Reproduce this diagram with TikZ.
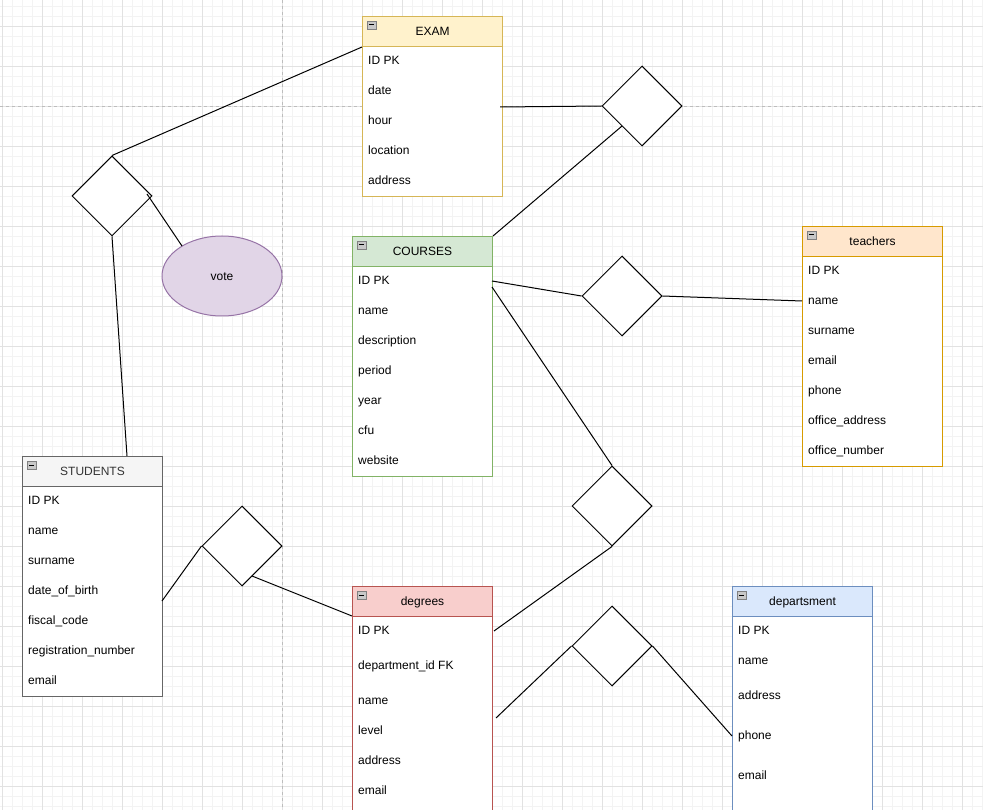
\documentclass[tikz,border=0pt]{standalone}
\usepackage{fontspec}
\setmainfont{Liberation Sans}
\usetikzlibrary{shapes.geometric,calc}

\definecolor{gridminor}{HTML}{F3F3F3}
\definecolor{gridmajor}{HTML}{E2E2E2}
\definecolor{pageline}{HTML}{BDBDBD}
\definecolor{examfill}{HTML}{FFF2CC}\definecolor{examline}{HTML}{D6B656}
\definecolor{coursefill}{HTML}{D5E8D4}\definecolor{courseline}{HTML}{82B366}
\definecolor{teachfill}{HTML}{FFE6CC}\definecolor{teachline}{HTML}{D79B00}
\definecolor{studfill}{HTML}{F5F5F5}\definecolor{studline}{HTML}{666666}
\definecolor{studtext}{HTML}{333333}
\definecolor{degfill}{HTML}{F8CECC}\definecolor{degline}{HTML}{B85450}
\definecolor{depfill}{HTML}{DAE8FC}\definecolor{depline}{HTML}{6C8EBF}
\definecolor{votefill}{HTML}{E1D5E7}\definecolor{voteline}{HTML}{9673A6}
\definecolor{iconfill}{HTML}{C8C8C8}\definecolor{iconline}{HTML}{808080}

\tikzset{
  every node/.style={font=\fontsize{12}{14}\selectfont},
  tblbody/.style={rectangle, fill=white, line width=1pt, minimum width=140pt,
    inner sep=0pt, anchor=north west},
  tblhead/.style={rectangle, line width=1pt, minimum width=140pt,
    minimum height=30pt, inner sep=0pt, anchor=north west},
  rowtext/.style={anchor=west, inner sep=0pt, text height=8.6pt, text depth=0pt},
  relbox/.style={diamond, draw=black, fill=white, line width=1pt,
    minimum width=80pt, minimum height=80pt, inner sep=0pt},
  attr/.style={ellipse, draw=voteline, fill=votefill, line width=1pt,
    minimum width=120pt, minimum height=80pt, inner sep=0pt,
    text height=8.6pt, text depth=0pt},
  link/.style={draw=black, line width=1pt},
}

% #1 name, #2 left x, #3 top y, #4 height, #5 fill, #6 stroke, #7 title, #8 rows (y/text)
\newcommand\ertable[8]{%
  \node[tblbody, draw=#6, minimum height=#4pt] (#1) at (#2,#3) {};
  \node[tblhead, fill=#5, draw=#6] (#1-head) at (#2,#3) {};
  \node[inner sep=0pt, text height=8.6pt, text depth=0pt] (#1-title)
    at (#1-head.center) {#7};
  \draw[fill=iconfill, draw=iconline, line width=0.6pt]
    ($(#1-head.north west)+(5,5)$) rectangle ($(#1-head.north west)+(14,13)$);
  \draw[black, line width=1pt]
    ($(#1-head.north west)+(7,9)$) -- ($(#1-head.north west)+(12,9)$);
  \foreach \yy/\rtxt [count=\n] in {#8}
    \node[rowtext] (#1-\n) at (#2+6,\yy) {\rtxt};
}

\begin{document}
\begin{tikzpicture}[x=1pt,y=-1pt]
\useasboundingbox (0,0) rectangle (983,810);
\clip (0,0) rectangle (983,810);
\fill[white] (0,0) rectangle (983,810);

% background grid
\foreach \x in {2,12,...,982} \draw[gridminor, line width=0.8pt] (\x,0) -- (\x,810);
\foreach \y in {6,16,...,806} \draw[gridminor, line width=0.8pt] (0,\y) -- (983,\y);
\foreach \x in {2,42,...,962} \draw[gridmajor, line width=0.8pt] (\x,0) -- (\x,810);
\foreach \y in {26,66,...,786} \draw[gridmajor, line width=0.8pt] (0,\y) -- (983,\y);
% page breaks
\draw[pageline, line width=0.8pt, dash pattern=on 3pt off 3pt] (282,0) -- (282,810);
\draw[pageline, line width=0.8pt, dash pattern=on 3pt off 3pt] (0,106) -- (983,106);

% entities
\ertable{exam}{362}{16}{180}{examfill}{examline}{EXAM}
  {60/ID PK, 90/date, 120/hour, 150/location, 180/address}
\ertable{courses}{352}{236}{240}{coursefill}{courseline}{COURSES}
  {280/ID PK, 310/name, 340/description, 370/period, 400/year, 430/cfu, 460/website}
\ertable{teachers}{802}{226}{240}{teachfill}{teachline}{teachers}
  {270/ID PK, 300/name, 330/surname, 360/email, 390/phone, 420/office\_address, 450/office\_number}
\ertable{students}{22}{456}{240}{studfill}{studline}{\color{studtext}STUDENTS}
  {500/ID PK, 530/name, 560/surname, 590/date\_of\_birth, 620/fiscal\_code, 650/registration\_number, 680/email}
\ertable{degrees}{352}{586}{250}{degfill}{degline}{degrees}
  {630/ID PK, 665/department\_id FK, 700/name, 730/level, 760/address, 790/email}
\ertable{dept}{732}{586}{250}{depfill}{depline}{departsment}
  {630/ID PK, 660/name, 695/address, 735/phone, 775/email}

% relationships
\node[relbox] (rvote)  at (112,196) {};
\node[relbox] (rexam)  at (642,106) {};
\node[relbox] (rteach) at (622,296) {};
\node[relbox] (rdeg)   at (612,506) {};
\node[relbox] (rdept)  at (612,646) {};
\node[relbox] (renrol) at (242,546) {};

% attribute
\node[attr] (vote) at (222,276) {vote};

% connector end points on entity borders
\coordinate (studTop)    at (127,456);
\coordinate (voteIn)     at (147,194);
\coordinate (voteEdge)   at (182,246);
\coordinate (examHour)   at (500,107);
\coordinate (courseR1)   at (492,281);
\coordinate (courseR2)   at (492,287);
\coordinate (teachName)  at (802,301);
\coordinate (degR1)      at (494,631);
\coordinate (degR2)      at (496,718);
\coordinate (deptPhone)  at (732,736);
\coordinate (studFiscal) at (162,601);
\coordinate (enrolOut)   at (252,576);
\coordinate (degL)       at (352,616);

% connectors
\draw[link] (exam-head.south west) -- (rvote.north);
\draw[link] (rvote.south) -- (studTop);
\draw[link] (voteIn) -- (voteEdge);
\draw[link] (examHour) -- (rexam.west);
\draw[link] (rexam.south west) -- (courses-head.north east);
\draw[link] (courseR1) -- (rteach.west);
\draw[link] (rteach.east) -- (teachName);
\draw[link] (courseR2) -- (rdeg.north);
\draw[link] (rdeg.south) -- (degR1);
\draw[link] (rdept.west) -- (degR2);
\draw[link] (rdept.east) -- (deptPhone);
\draw[link] (studFiscal) -- (renrol.west);
\draw[link] (enrolOut) -- (degL);
\end{tikzpicture}
\end{document}
